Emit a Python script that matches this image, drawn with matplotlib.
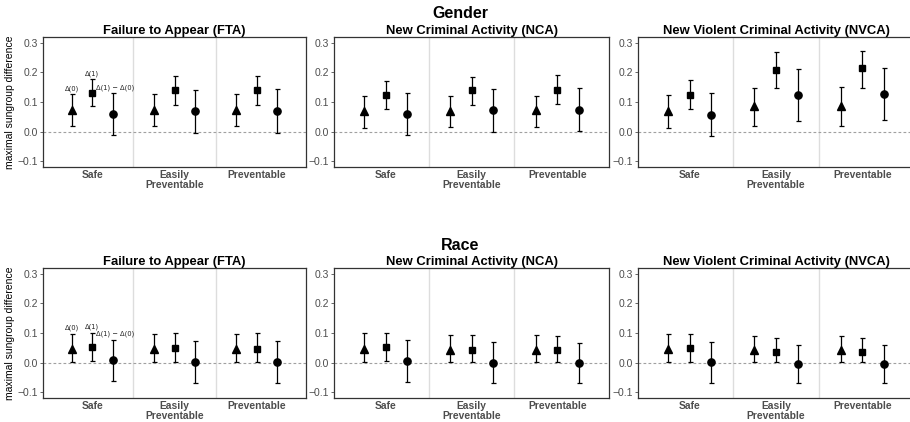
import numpy as np
import matplotlib
matplotlib.use("Agg")
import matplotlib.pyplot as plt

plt.rcParams['font.family'] = ['Liberation Sans', 'DejaVu Sans']

# categories on the x axis
categories = ["Safe", "Easily\nPreventable", "Preventable"]
outcomes = ["Failure to Appear (FTA)", "New Criminal Activity (NCA)",
            "New Violent Criminal Activity (NVCA)"]
measures = ["d0", "d1", "diff"]
labels = {"d0": "Δ(0)", "d1": "Δ(1)", "diff": "Δ(1) − Δ(0)"}

# (estimate, lower, upper) for Safe, Easily Preventable, Preventable
gender_fta = {
    "d0":   [(0.072, 0.019, 0.126), (0.072, 0.019, 0.126), (0.072, 0.018, 0.126)],
    "d1":   [(0.131, 0.086, 0.177), (0.139, 0.090, 0.187), (0.142, 0.091, 0.189)],
    "diff": [(0.059, -0.010, 0.129), (0.068, -0.006, 0.139), (0.069, -0.004, 0.143)],
}
gender_nca = {
    "d0":   [(0.069, 0.012, 0.121), (0.071, 0.014, 0.122), (0.072, 0.016, 0.122)],
    "d1":   [(0.124, 0.078, 0.172), (0.141, 0.091, 0.186), (0.142, 0.093, 0.190)],
    "diff": [(0.059, -0.013, 0.131), (0.072, 0.000, 0.143), (0.074, 0.002, 0.146)],
}
gender_nvca = {
    "d0":   [(0.068, 0.011, 0.123), (0.086, 0.019, 0.148), (0.088, 0.019, 0.150)],
    "d1":   [(0.125, 0.077, 0.175), (0.210, 0.148, 0.269), (0.214, 0.149, 0.274)],
    "diff": [(0.057, -0.016, 0.130), (0.125, 0.035, 0.213), (0.127, 0.038, 0.216)],
}
race_fta = {
    "d0":   [(0.045, 0.002, 0.097), (0.045, 0.002, 0.097), (0.045, 0.002, 0.097)],
    "d1":   [(0.051, 0.006, 0.100), (0.049, 0.003, 0.099), (0.047, 0.003, 0.099)],
    "diff": [(0.008, -0.064, 0.076), (0.003, -0.068, 0.072), (0.003, -0.068, 0.072)],
}
race_nca = {
    "d0":   [(0.047, 0.002, 0.099), (0.043, 0.002, 0.094), (0.043, 0.001, 0.092)],
    "d1":   [(0.051, 0.005, 0.101), (0.041, 0.001, 0.092), (0.041, 0.001, 0.091)],
    "diff": [(0.006, -0.067, 0.075), (0.000, -0.069, 0.068), (0.000, -0.068, 0.067)],
}
race_nvca = {
    "d0":   [(0.045, 0.002, 0.098), (0.041, 0.001, 0.091), (0.041, 0.001, 0.090)],
    "d1":   [(0.048, 0.003, 0.098), (0.034, 0.001, 0.084), (0.034, 0.001, 0.084)],
    "diff": [(0.002, -0.068, 0.070), (-0.006, -0.070, 0.059), (-0.006, -0.069, 0.059)],
}

rows = [("Gender", [gender_fta, gender_nca, gender_nvca]),
        ("Race", [race_fta, race_nca, race_nvca])]

W, H = 910, 422
fig = plt.figure(figsize=(W / 100, H / 100), dpi=100)

def ax_at(x0, x1, y0, y1):
    # pixel box (top-left origin) -> figure axes
    return fig.add_axes([x0 / W, 1 - y1 / H, (x1 - x0) / W, (y1 - y0) / H])

col_x = [(43, 306), (334, 609), (638, 914)]
row_y = [(37, 167), (268, 398)]
offsets = {"d0": -0.25, "d1": 0.0, "diff": 0.25}
marks = {"d0": ("^", 5.5), "d1": ("s", 4.8), "diff": ("o", 5.2)}
xs = np.arange(1, len(categories) + 1)
grey = "#4D4D4D"

for r, (group, panels) in enumerate(rows):
    y0, y1 = row_y[r]
    fig.text(460 / W, 1 - (y0 - 23) / H, group, ha="center", va="center",
             fontsize=11.5, fontweight="bold")
    for c, data in enumerate(panels):
        ax = ax_at(col_x[c][0], col_x[c][1], y0, y1)
        ax.set_xlim(0.4, 3.6)
        ax.set_ylim(-0.12, 0.32)
        for v in [1.5, 2.5]:
            ax.axvline(v, color="#DDDDDD", lw=1.0, zorder=0)
        ax.axhline(0, color="#A0A0A0", lw=0.8, ls=(0, (2.5, 2)), zorder=0)
        for m in measures:
            vals = np.array(data[m])
            est, lo, hi = vals[:, 0], vals[:, 1], vals[:, 2]
            mk, ms = marks[m]
            ax.errorbar(xs + offsets[m], est, yerr=[est - lo, hi - est],
                        fmt=mk, ms=ms, color="black", ecolor="black",
                        elinewidth=0.9, capsize=1.8, capthick=0.9, zorder=3)
            if c == 0:
                ax.text(1 + offsets[m] + (0.03 if m == "diff" else 0),
                        hi[0] + 0.02, labels[m], ha="center",
                        va="center", fontsize=4.9, color="#222222",
                        family=["DejaVu Sans"])
        ax.set_xticks(xs)
        ax.set_xticklabels(categories, fontsize=7.4, fontweight="bold",
                           color=grey, linespacing=0.95)
        ax.tick_params(axis="x", length=0, pad=2.5)
        ax.set_yticks([-0.1, 0.0, 0.1, 0.2, 0.3])
        ax.set_yticklabels(["\u22120.1", "0.0", "0.1", "0.2", "0.3"])
        ax.tick_params(axis="y", length=2, width=0.6, color=grey,
                       labelsize=7.5, labelcolor=grey, pad=1.5)
        for s in ax.spines.values():
            s.set_color("#333333")
            s.set_linewidth(0.9)
        ax.set_title(outcomes[c], fontsize=9.4, fontweight="bold", pad=2.5)
        if c == 0:
            ax.set_ylabel("maximal sungroup difference", fontsize=7.5,
                          labelpad=2)

fig.savefig("out.png", dpi=100)
